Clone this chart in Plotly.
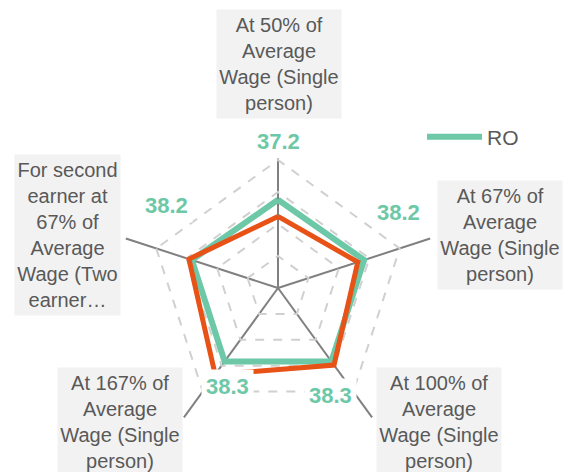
import math
import plotly.graph_objects as go

# ---------------- data ----------------
categories = [
    "At 50% of Average Wage (Single person)",
    "At 67% of Average Wage (Single person)",
    "At 100% of Average Wage (Single person)",
    "At 167% of Average Wage (Single person)",
    "For second earner at 67% of Average Wage (Two earner…",
]
category_labels = [
    "At 50% of<br>Average<br>Wage (Single<br>person)",
    "At 67% of<br>Average<br>Wage (Single<br>person)",
    "At 100% of<br>Average<br>Wage (Single<br>person)",
    "At 167% of<br>Average<br>Wage (Single<br>person)",
    "For second<br>earner at<br>67% of<br>Average<br>Wage (Two<br>earner…",
]
ro_values = [37.2, 38.2, 38.3, 38.3, 38.2]
other_values = [30.2, 35.4, 40.2, 45.1, 39.5]
radial_ticks = [13.5, 27.0, 40.5, 54.0, 67.5]

# ---------------- style ----------------
W, H = 569, 472
CX, CY, R = 278, 288, 160          # polar centre / radius in pixels
GREEN = "#6CC8A6"
ORANGE = "#E85217"
TEXT_GREY = "#595959"
BOX_BG = "#F2F2F2"
FONT = "Liberation Sans, Arial, sans-serif"

# category box centres (px), sizes
cat_boxes = [(279, 64, 124, 108), (500, 235, 124, 108), (439, 422, 124, 108),
             (120, 422, 124, 108), (67.5, 235, 105, 160)]
# data label placement: (radius px, angle deg)
label_pos = [(147, 90), (142, 32), (120, -64), (111, -117), (139, 143.5)]


def px_to_paper(x, y):
    return x / W, 1 - y / H


fig = go.Figure()
fig.add_trace(go.Scatterpolar(
    r=ro_values + ro_values[:1], theta=categories + categories[:1],
    mode="lines", name="RO", line=dict(color=GREEN, width=6),
    hoverinfo="skip"))
fig.add_trace(go.Scatterpolar(
    r=other_values + other_values[:1], theta=categories + categories[:1],
    mode="lines", name="Average", showlegend=False,
    line=dict(color=ORANGE, width=5), hoverinfo="skip"))

annotations = []
for (bx, by, bw, bh), txt in zip(cat_boxes, category_labels):
    x, y = px_to_paper(bx, by)
    annotations.append(dict(
        x=x, y=y, xref="paper", yref="paper", text=txt, showarrow=False,
        xanchor="center", yanchor="middle", width=bw, height=bh,
        bgcolor=BOX_BG, borderpad=0, align="center",
        font=dict(family=FONT, size=20, color=TEXT_GREY)))

for (lr, la), v in zip(label_pos, ro_values):
    px = CX + lr * math.cos(math.radians(la))
    py = CY - lr * math.sin(math.radians(la))
    x, y = px_to_paper(px, py)
    annotations.append(dict(
        x=x, y=y, xref="paper", yref="paper", text=f"<b>{v}</b>",
        showarrow=False, xanchor="center", yanchor="middle",
        bgcolor="white", borderpad=4,
        font=dict(family=FONT, size=22, color=GREEN)))

x0, x1 = (CX - R) / W, (CX + R) / W
y0, y1 = 1 - (CY + R) / H, 1 - (CY - R) / H

fig.update_layout(
    width=W, height=H, margin=dict(l=0, r=0, t=0, b=0),
    paper_bgcolor="white", plot_bgcolor="white",
    polar=dict(
        domain=dict(x=[x0, x1], y=[y0, y1]),
        bgcolor="white", gridshape="linear",
        radialaxis=dict(range=[0, radial_ticks[-1]], tickvals=radial_ticks,
                        showticklabels=False, showline=False, ticks="",
                        gridcolor="#D0D0D0", gridwidth=1.5, griddash="dash"),
        angularaxis=dict(rotation=90, direction="clockwise",
                         showticklabels=False, ticks="", showline=False,
                         gridcolor="#808080", gridwidth=1.5),
    ),
    showlegend=True,
    legend=dict(x=422 / W, y=1 - 137 / H, xanchor="left", yanchor="middle",
                bgcolor="rgba(0,0,0,0)", itemwidth=55,
                font=dict(family=FONT, size=21, color=TEXT_GREY)),
    annotations=annotations,
)

fig.write_html("out.html", config={"displayModeBar": False},
               post_script="document.body.style.margin='0';document.body.style.overflow='hidden';")
